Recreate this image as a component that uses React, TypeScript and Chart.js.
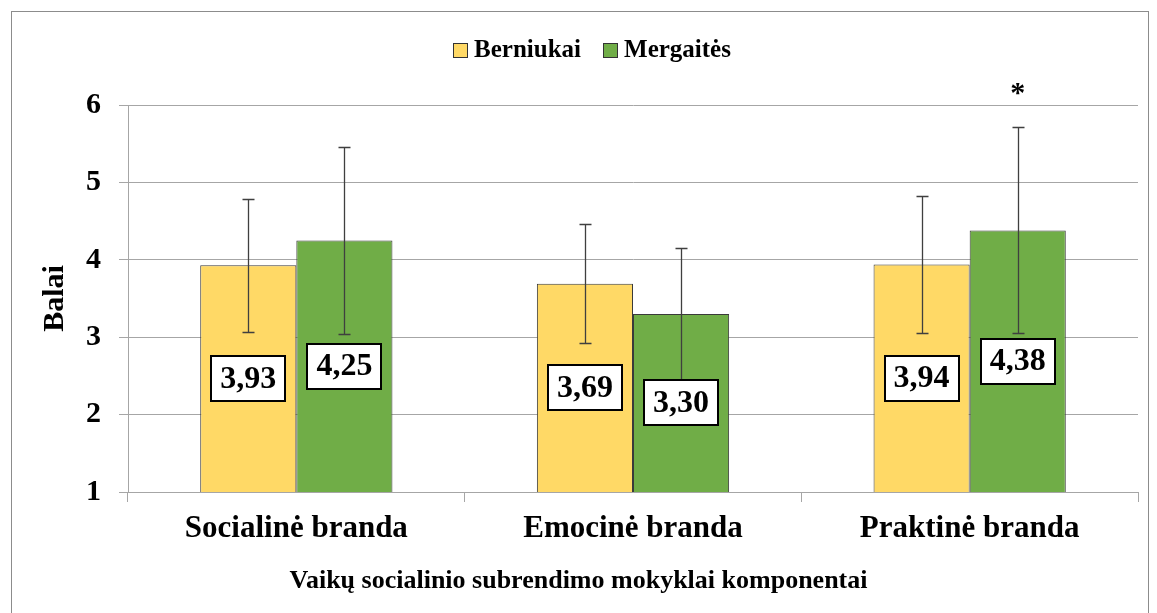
import React, { useEffect, useRef } from 'react';
import { Chart, registerables } from 'chart.js';

Chart.register(...registerables);

const categories = ['Socialinė branda', 'Emocinė branda', 'Praktinė branda'];
const seriesNames = ['Berniukai', 'Mergaitės'];
const boysValues = [3.93, 3.69, 3.94];
const girlsValues = [4.25, 3.3, 4.38];
const boysErrors = [0.86, 0.77, 0.88];
const girlsErrors = [1.21, 0.85, 1.33];
const boysMarks = ['', '', ''];
const girlsMarks = ['', '', '*'];
const yTicks = [1, 2, 3, 4, 5, 6];
const yTitle = 'Balai';
const xTitle = 'Vaikų socialinio subrendimo mokyklai komponentai';

const FONT = "'Liberation Serif', 'Times New Roman', serif";
const GRID = '#a6a6a6';

const fmt = (v: number) => v.toFixed(2).replace('.', ',');

const overlayPlugin = {
  id: 'overlay',
  beforeDraw(chart: any) {
    const ctx = chart.ctx;
    ctx.save();
    ctx.fillStyle = '#ffffff';
    ctx.fillRect(0, 0, chart.width, chart.height);
    ctx.strokeStyle = '#8c8c8c';
    ctx.lineWidth = 1;
    ctx.strokeRect(11.5, 11.5, 1137, 700);
    ctx.restore();
  },
  afterDatasetsDraw(chart: any) {
    const ctx = chart.ctx;
    const yScale = chart.scales.y;
    const bottom = chart.chartArea.bottom;
    ctx.save();
    // error bars
    chart.data.datasets.forEach((ds: any, di: number) => {
      const meta = chart.getDatasetMeta(di);
      meta.data.forEach((bar: any, i: number) => {
        const v = ds.data[i];
        const e = ds.errors[i];
        const yt = Math.round(yScale.getPixelForValue(v + e)) + 0.5;
        const yb = Math.round(yScale.getPixelForValue(v - e)) + 0.5;
        const x = Math.round(bar.x) + 0.5;
        ctx.strokeStyle = '#3f3f3f';
        ctx.lineWidth = 1.3;
        ctx.beginPath();
        ctx.moveTo(x, yt);
        ctx.lineTo(x, yb);
        ctx.moveTo(x - 6, yt);
        ctx.lineTo(x + 6, yt);
        ctx.moveTo(x - 6, yb);
        ctx.lineTo(x + 6, yb);
        ctx.stroke();
      });
    });
    // value labels
    ctx.font = `bold 32px ${FONT}`;
    ctx.textAlign = 'center';
    ctx.textBaseline = 'middle';
    chart.data.datasets.forEach((ds: any, di: number) => {
      const meta = chart.getDatasetMeta(di);
      meta.data.forEach((bar: any, i: number) => {
        const text = fmt(ds.data[i]);
        const cx = bar.x;
        const cy = (bar.y + Math.min(bar.base, bottom)) / 2;
        const w = ctx.measureText(text).width + 18;
        const h = 45;
        const lx = Math.round(cx - w / 2);
        const ly = Math.round(cy - h / 2);
        ctx.fillStyle = '#ffffff';
        ctx.fillRect(lx, ly, w, h);
        ctx.strokeStyle = '#000000';
        ctx.lineWidth = 2;
        ctx.strokeRect(lx, ly, w, h);
        ctx.fillStyle = '#000000';
        ctx.fillText(text, cx, cy + 1);
      });
    });
    // significance marks
    ctx.font = `bold 30px ${FONT}`;
    ctx.textBaseline = 'alphabetic';
    chart.data.datasets.forEach((ds: any, di: number) => {
      const meta = chart.getDatasetMeta(di);
      meta.data.forEach((bar: any, i: number) => {
        const m = ds.marks[i];
        if (!m) return;
        const yt = yScale.getPixelForValue(ds.data[i] + ds.errors[i]);
        ctx.fillStyle = '#000000';
        ctx.fillText(m, bar.x, yt - 25);
      });
    });
    ctx.restore();
  },
  afterDraw(chart: any) {
    const ctx = chart.ctx;
    ctx.save();
    // legend
    ctx.font = `bold 25px ${FONT}`;
    ctx.textBaseline = 'middle';
    ctx.textAlign = 'left';
    const box = 14;
    const gap = 7;
    const spacing = 22;
    const items = chart.data.datasets.map((ds: any) => ({
      text: ds.label,
      color: ds.backgroundColor,
      w: ctx.measureText(ds.label).width,
    }));
    const total =
      items.reduce((s: number, it: any) => s + box + gap + it.w, 0) + spacing * (items.length - 1);
    let x = 592 - total / 2;
    const cy = 50;
    items.forEach((it: any) => {
      ctx.fillStyle = it.color;
      ctx.fillRect(Math.round(x) + 0.5, cy - 7 + 0.5, box, box);
      ctx.strokeStyle = '#333333';
      ctx.lineWidth = 1;
      ctx.strokeRect(Math.round(x) + 0.5, cy - 7 + 0.5, box, box);
      ctx.fillStyle = '#000000';
      ctx.fillText(it.text, x + box + gap, cy + 1);
      x += box + gap + it.w + spacing;
    });
    // x axis title (centred on the whole figure)
    ctx.font = `bold 26px ${FONT}`;
    ctx.textAlign = 'center';
    ctx.textBaseline = 'middle';
    ctx.fillStyle = '#000000';
    ctx.fillText(xTitle, chart.width / 2, 581);
    ctx.restore();
  },
};

export default function App() {
  const canvasRef = useRef<HTMLCanvasElement | null>(null);

  useEffect(() => {
    if (!canvasRef.current) return;
    const chart = new Chart(canvasRef.current, {
      type: 'bar',
      data: {
        labels: categories,
        datasets: [
          {
            label: seriesNames[0],
            data: boysValues,
            errors: boysErrors,
            marks: boysMarks,
            backgroundColor: '#FFD966',
            borderColor: '#3a3a3a',
            borderWidth: 1,
            categoryPercentage: 0.571,
            barPercentage: 1.0,
          } as any,
          {
            label: seriesNames[1],
            data: girlsValues,
            errors: girlsErrors,
            marks: girlsMarks,
            backgroundColor: '#70AD47',
            borderColor: '#3a3a3a',
            borderWidth: 1,
            categoryPercentage: 0.571,
            barPercentage: 1.0,
          } as any,
        ],
      },
      options: {
        responsive: false,
        animation: false,
        events: [],
        layout: { padding: { top: 105, right: 19, left: 0, bottom: 0 } },
        plugins: {
          legend: { display: false },
          tooltip: { enabled: false },
        },
        scales: {
          x: {
            offset: true,
            grid: {
              display: true,
              drawOnChartArea: false,
              drawTicks: true,
              tickLength: 10,
              offset: true,
              color: GRID,
            },
            border: { display: true, color: GRID, width: 1 },
            ticks: {
              color: '#000000',
              padding: 8,
              font: { family: FONT, size: 31, weight: 'bold' },
            },
            title: { display: false },
            afterFit: (scale: any) => {
              scale.height = 121;
            },
          },
          y: {
            min: 1,
            max: 6,
            afterBuildTicks: (scale: any) => {
              scale.ticks = yTicks.map((v) => ({ value: v }));
            },
            grid: {
              color: GRID,
              lineWidth: 1,
              drawTicks: true,
              tickLength: 9,
            },
            border: { display: true, color: GRID, width: 1 },
            ticks: {
              color: '#000000',
              padding: 18,
              font: { family: FONT, size: 30, weight: 'bold' },
            },
            title: {
              display: true,
              text: yTitle,
              color: '#000000',
              padding: { top: 37, bottom: 0 },
              font: { family: FONT, size: 30, weight: 'bold' },
            },
            afterFit: (scale: any) => {
              scale.width = 128;
            },
          },
        },
      } as any,
      plugins: [overlayPlugin],
    });
    return () => chart.destroy();
  }, []);

  return (
    <div style={{ position: 'fixed', left: 0, top: 0, width: 1157, height: 613, background: '#fff' }}>
      <canvas ref={canvasRef} width={1157} height={613} style={{ display: 'block' }} />
    </div>
  );
}
